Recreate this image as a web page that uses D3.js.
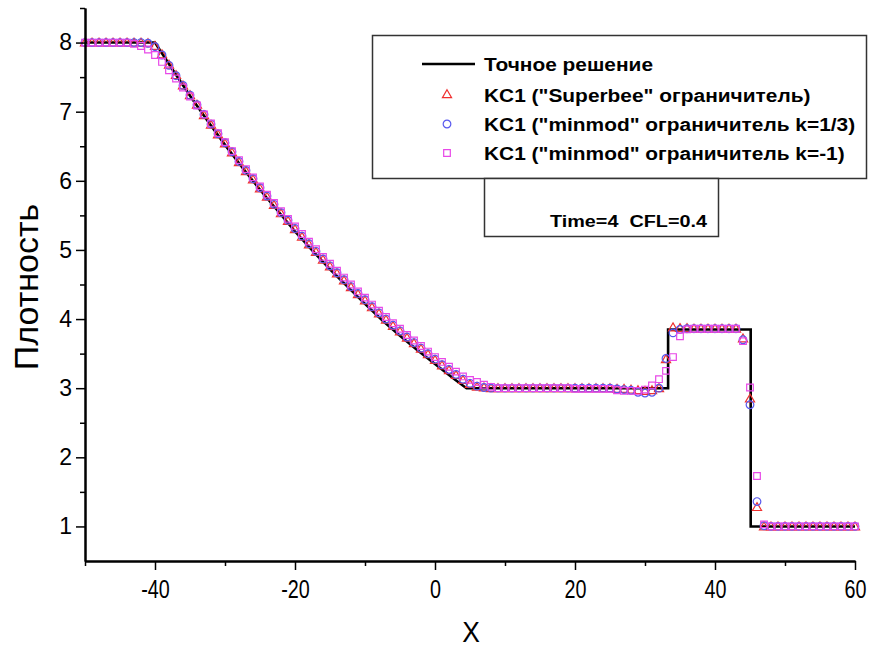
<!DOCTYPE html>
<html>
<head>
<meta charset="utf-8">
<script src="https://cdn.jsdelivr.net/npm/d3@7"></script>
<style>
  body { margin: 0; background: #fff; }
  text { font-family: "Liberation Sans", Arial, sans-serif; }
</style>
</head>
<body>
<script>
// grid points of the numerical solutions
var gridX = [
  -50,-49,-48,-47,-46,-45,-44,-43,-42,-41,-40,-39,-38,-37,-36,-35,-34,-33,-32,-31,
  -30,-29,-28,-27,-26,-25,-24,-23,-22,-21,-20,-19,-18,-17,-16,-15,-14,-13,-12,-11,
  -10,-9,-8,-7,-6,-5,-4,-3,-2,-1,0,1,2,3,4,5,6,7,8,9,
  10,11,12,13,14,15,16,17,18,19,20,21,22,23,24,25,26,27,28,29,
  30,31,32,33,34,35,36,37,38,39,40,41,42,43,44,45,46,47,48,49,
  50,51,52,53,54,55,56,57,58,59,60
];

// KC1 "Superbee"
var superbee = [
  8.00,8.00,8.00,8.00,8.00,8.00,8.00,8.00,8.00,7.99,7.95,7.83,7.68,7.53,7.38,7.24,7.10,6.95,6.81,6.67,
  6.54,6.41,6.27,6.14,6.02,5.89,5.77,5.65,5.53,5.42,5.30,5.19,5.08,4.97,4.86,4.76,4.66,4.56,4.46,4.36,
  4.27,4.17,4.08,3.99,3.90,3.82,3.73,3.65,3.57,3.49,3.41,3.33,3.26,3.19,3.12,3.06,3.02,3.01,3.00,3.00,
  3.00,3.00,3.00,3.00,3.00,3.00,3.00,3.00,3.00,3.00,3.00,3.00,3.00,3.00,3.00,3.00,2.99,2.99,2.98,2.97,
  2.96,2.97,3.00,3.42,3.88,3.87,3.87,3.86,3.86,3.86,3.86,3.86,3.86,3.86,3.72,2.85,1.28,1.00,1.00,1.00,
  1.00,1.00,1.00,1.00,1.00,1.00,1.00,1.00,1.00,1.00,1.00
];

// KC1 "minmod" k=1/3
var minmodThird = [
  8.00,8.00,8.00,8.00,8.00,8.00,8.00,8.00,8.00,7.99,7.94,7.82,7.67,7.52,7.38,7.24,7.10,6.96,6.82,6.68,
  6.55,6.42,6.28,6.15,6.03,5.90,5.78,5.66,5.54,5.43,5.31,5.20,5.09,4.98,4.87,4.77,4.67,4.57,4.47,4.37,
  4.28,4.18,4.09,4.00,3.91,3.83,3.74,3.66,3.58,3.50,3.42,3.34,3.27,3.20,3.13,3.07,3.03,3.01,3.00,3.00,
  3.00,3.00,3.00,3.00,3.00,3.00,3.00,3.00,3.00,3.00,3.00,3.00,3.00,3.00,3.00,3.00,2.99,2.98,2.97,2.94,
  2.93,2.94,3.00,3.43,3.80,3.85,3.86,3.86,3.86,3.86,3.86,3.86,3.86,3.86,3.70,2.76,1.36,1.01,1.00,1.00,
  1.00,1.00,1.00,1.00,1.00,1.00,1.00,1.00,1.00,1.00,1.00
];

// KC1 "minmod" k=-1
var minmodM1 = [
  8.00,8.00,8.00,8.00,8.00,8.00,8.00,7.98,7.95,7.90,7.82,7.72,7.60,7.48,7.35,7.22,7.09,6.96,6.83,6.69,
  6.56,6.43,6.30,6.17,6.05,5.92,5.80,5.68,5.56,5.45,5.34,5.23,5.12,5.01,4.90,4.80,4.70,4.60,4.50,4.40,
  4.31,4.21,4.12,4.03,3.94,3.86,3.77,3.69,3.61,3.53,3.45,3.38,3.31,3.24,3.17,3.12,3.09,3.05,3.02,3.00,
  3.00,3.00,3.00,3.00,3.00,3.00,3.00,3.00,3.00,3.00,2.99,2.99,2.99,2.99,2.99,2.99,2.97,2.96,2.96,2.96,
  2.98,3.04,3.13,3.25,3.45,3.75,3.85,3.86,3.86,3.86,3.86,3.86,3.86,3.86,3.68,3.01,1.73,1.03,1.00,1.00,
  1.00,1.00,1.00,1.00,1.00,1.00,1.00,1.00,1.00,1.00,1.00
];

// exact solution
var exactX = [-50,-40,-37.5,-35,-32.5,-30,-27.5,-25,-22.5,-20,-17.5,-15,-12.5,-10,-7.5,-5,-2.5,0,2.5,4.5,33.3,33.3,45.1,45.1,60];
var exactY = [8,8,7.61,7.23,6.87,6.52,6.19,5.87,5.57,5.27,4.99,4.72,4.47,4.22,3.98,3.76,3.55,3.35,3.15,3.0,3.0,3.85,3.85,1.0,1.0];

var xTicks = [-40,-20,0,20,40,60];
var xMinor = [-50,-30,-10,10,30,50];
var yTicks = [1,2,3,4,5,6,7,8];
var yMinor = [1.5,2.5,3.5,4.5,5.5,6.5,7.5,8.5];

var legendLabels = [
  "Точное решение",
  "KC1 (\"Superbee\" ограничитель)",
  "KC1 (\"minmod\" ограничитель k=1/3)",
  "KC1 (\"minmod\" ограничитель k=-1)"
];

var width  = 872;
var height = 649;

var svg = d3.select("body")
            .append("svg")
            .attr("width", width)
            .attr("height", height);

var x = d3.scaleLinear().domain([-50, 60]).range([85, 855]),
    y = d3.scaleLinear().domain([0.5, 8.5]).range([561, 8]);

var series = [
  {name: "tri",  values: superbee,    color: "#f03030", type: d3.symbolTriangle, size: 36},
  {name: "circ", values: minmodThird, color: "#5858ee", type: d3.symbolCircle,   size: 46},
  {name: "sq",   values: minmodM1,    color: "#e848e8", type: d3.symbolSquare,   size: 44}
];

// exact line
var exact = exactX.map(function(d, i) { return [d, exactY[i]]; });
svg.append("path")
   .datum(exact)
   .attr("fill", "none")
   .attr("stroke", "#000")
   .attr("stroke-width", 2.6)
   .attr("d", d3.line().x(function(d) { return x(d[0]); }).y(function(d) { return y(d[1]); }));

// markers
series.forEach(function(s) {
  svg.append("g")
     .selectAll("path")
     .data(gridX)
     .enter().append("path")
             .attr("transform", function(d, i) {
               var dy = s.name == "tri" ? 0.8 : 0;
               return "translate(" + x(d) + "," + (y(s.values[i]) + dy) + ")";
             })
             .attr("d", d3.symbol().type(s.type).size(s.size))
             .attr("fill", "none")
             .attr("stroke", s.color)
             .attr("stroke-width", 1.2);
});

// axes
var fmt = function(d) { return String(d); };

var gx = svg.append("g")
            .attr("transform", "translate(0,561)")
            .call(d3.axisBottom(x).tickValues(xTicks).tickFormat(fmt).tickSize(9).tickSizeOuter(0).tickPadding(10));
svg.append("g")
   .attr("transform", "translate(0,561)")
   .call(d3.axisBottom(x).tickValues(xMinor).tickSize(5).tickSizeOuter(0).tickFormat(""));

var gy = svg.append("g")
            .attr("transform", "translate(85,0)")
            .call(d3.axisLeft(y).tickValues(yTicks).tickFormat(fmt).tickSize(9).tickSizeOuter(0).tickPadding(4));
svg.append("g")
   .attr("transform", "translate(85,0)")
   .call(d3.axisLeft(y).tickValues(yMinor).tickSize(5).tickSizeOuter(0).tickFormat(""));

svg.selectAll(".domain").attr("stroke", "#000").attr("stroke-width", 2);
svg.selectAll(".tick line").attr("stroke", "#000").attr("stroke-width", 1.5);
svg.selectAll(".tick text")
   .attr("fill", "#000")
   .style("font-family", "'Liberation Sans', Arial, sans-serif");

gx.selectAll(".tick text")
  .style("font-size", "26px")
  .attr("transform", "scale(0.76,1)");
gy.selectAll(".tick text")
  .style("font-size", "23px");

svg.append("text")
   .attr("transform", "translate(471,642) scale(0.88,1)")
   .style("text-anchor", "middle")
   .style("font-size", "30px")
   .text("X");

svg.append("text")
   .attr("transform", "translate(38,287) rotate(-90)")
   .style("text-anchor", "middle")
   .style("font-size", "34px")
   .text("Плотность");

// legend
svg.append("rect")
   .attr("x", 372.5).attr("y", 35.5)
   .attr("width", 494).attr("height", 143)
   .attr("fill", "#fff").attr("stroke", "#333").attr("stroke-width", 1.5);

svg.append("rect")
   .attr("x", 484.5).attr("y", 178.5)
   .attr("width", 234).attr("height", 58)
   .attr("fill", "#fff").attr("stroke", "#333").attr("stroke-width", 1.5);

var rowY = [64, 95, 124, 153];

svg.append("line")
   .attr("x1", 422).attr("x2", 475)
   .attr("y1", rowY[0]).attr("y2", rowY[0])
   .attr("stroke", "#000").attr("stroke-width", 2.5);

series.forEach(function(s, i) {
  svg.append("path")
     .attr("transform", "translate(447," + rowY[i + 1] + ")")
     .attr("d", d3.symbol().type(s.type).size(s.size))
     .attr("fill", "none")
     .attr("stroke", s.color)
     .attr("stroke-width", 1.2);
});

svg.append("g")
   .selectAll("text")
   .data(legendLabels)
   .enter().append("text")
           .attr("transform", function(d, i) { return "translate(484," + (rowY[i] + 6.5) + ") scale(1.13,1)"; })
           .style("font-size", "18.5px")
           .style("font-weight", "bold")
           .text(function(d) { return d; });

svg.append("text")
   .attr("transform", "translate(707,227) scale(1.2,1)")
   .style("text-anchor", "end")
   .style("font-size", "16.5px")
   .style("font-weight", "bold")
   .style("white-space", "pre")
   .text("Time=4  CFL=0.4");
</script>
</body>
</html>
